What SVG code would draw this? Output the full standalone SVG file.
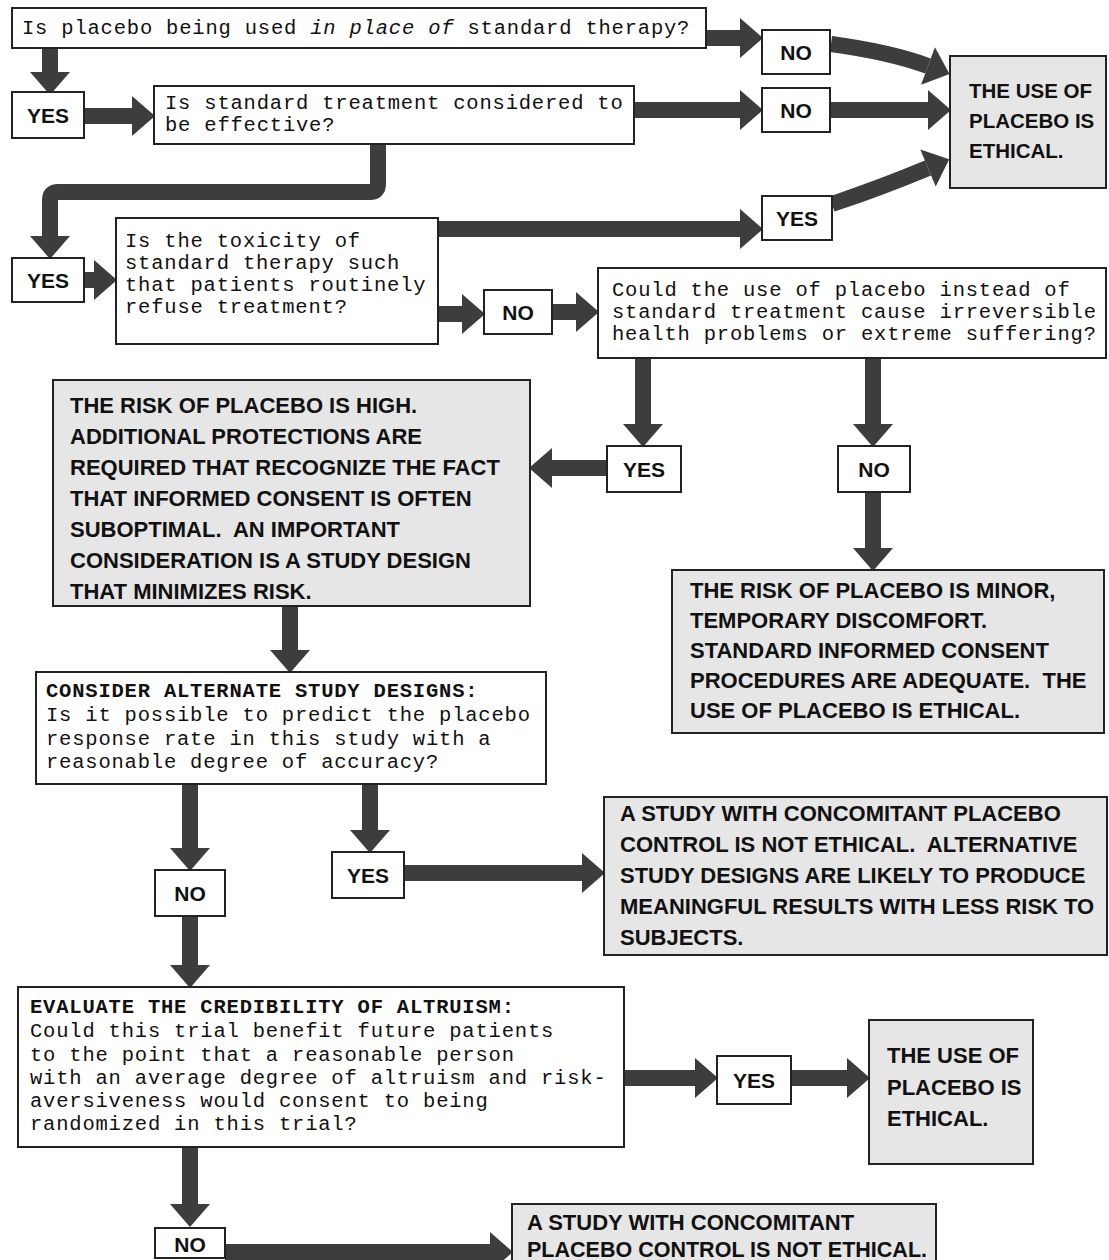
<svg xmlns="http://www.w3.org/2000/svg" width="1109" height="1260" viewBox="0 0 1109 1260">
<defs>
<marker id="ah" markerUnits="userSpaceOnUse" markerWidth="24" markerHeight="40" refX="0" refY="20" orient="auto" overflow="visible">
<path d="M0,0 L23,20 L0,40 Z" fill="#3d3d3d"/>
</marker>
<style>
.q{fill:#fff;stroke:#222;stroke-width:2}
.t{fill:#e6e6e6;stroke:#222;stroke-width:2}
.mono{font-family:"Liberation Mono","DejaVu Sans Mono",monospace;font-size:20.5px;letter-spacing:0.8px;fill:#111}
.hdr{font-weight:bold}
.cap{font-family:"Liberation Sans","DejaVu Sans",sans-serif;font-weight:bold;font-size:22px;fill:#111}
.sm{font-size:20.5px}
.lbl{font-family:"Liberation Sans","DejaVu Sans",sans-serif;font-weight:bold;font-size:21px;fill:#111;text-anchor:middle}
.c path{fill:none;stroke:#3d3d3d;stroke-width:16;marker-end:url(#ah)}
</style>
</defs>
<rect width="1109" height="1260" fill="#fff"/>

<g class="c" id="connectors">
<path d="M706,38 H740"/>
<path d="M831,44 Q890,52 928,66"/>
<path d="M50,48 V72"/>
<path d="M84,116 H132"/>
<path d="M634,110 H740"/>
<path d="M830,110 H928"/>
<path d="M378,144 V184 Q378,192 370,192 H58 Q50,192 50,200 V236"/>
<path d="M84,280 H94"/>
<path d="M438,229 H740"/>
<path d="M832,204 Q880,188 928,168"/>
<path d="M438,314 H462"/>
<path d="M552,312 H576"/>
<path d="M643,358 V424"/>
<path d="M873,358 V424"/>
<path d="M607,468 H552"/>
<path d="M873,492 V548"/>
<path d="M290,606 V650"/>
<path d="M190,784 V848"/>
<path d="M370,784 V830"/>
<path d="M404,873 H582"/>
<path d="M190,916 V965"/>
<path d="M624,1078 H695"/>
<path d="M791,1078 H847"/>
<path d="M190,1147 V1204"/>
<path d="M225,1252 H490"/>
</g>

<g id="q1"><rect class="q" x="12" y="8" width="694" height="40"/>
<text class="mono" x="22" y="34">Is placebo being used <tspan font-style="italic">in place of</tspan> standard therapy?</text></g>

<g id="no1"><rect class="q" x="762" y="30" width="68" height="44"/><text class="lbl" x="796" y="60">NO</text></g>

<g id="ethical1"><rect class="t" x="950" y="56" width="156" height="132"/>
<text class="cap sm" x="969" y="98">THE USE OF</text>
<text class="cap sm" x="969" y="128">PLACEBO IS</text>
<text class="cap sm" x="969" y="158">ETHICAL.</text></g>

<g id="yes1"><rect class="q" x="12" y="92" width="72" height="46"/><text class="lbl" x="48" y="123">YES</text></g>

<g id="q2"><rect class="q" x="154" y="86" width="480" height="58"/>
<text class="mono" x="165" y="109">Is standard treatment considered to</text>
<text class="mono" x="165" y="131">be effective?</text></g>

<g id="no2"><rect class="q" x="762" y="88" width="68" height="44"/><text class="lbl" x="796" y="118">NO</text></g>

<g id="yes2"><rect class="q" x="12" y="258" width="72" height="44"/><text class="lbl" x="48" y="288">YES</text></g>

<g id="q3"><rect class="q" x="116" y="218" width="322" height="126"/>
<text class="mono" x="125" y="247">Is the toxicity of</text>
<text class="mono" x="125" y="269">standard therapy such</text>
<text class="mono" x="125" y="291">that patients routinely</text>
<text class="mono" x="125" y="313">refuse treatment?</text></g>

<g id="yes3"><rect class="q" x="762" y="196" width="70" height="44"/><text class="lbl" x="797" y="226">YES</text></g>

<g id="no3"><rect class="q" x="484" y="290" width="68" height="44"/><text class="lbl" x="518" y="320">NO</text></g>

<g id="q4"><rect class="q" x="598" y="268" width="508" height="90"/>
<text class="mono" x="612" y="296">Could the use of placebo instead of</text>
<text class="mono" x="612" y="318">standard treatment cause irreversible</text>
<text class="mono" x="612" y="340">health problems or extreme suffering?</text></g>

<g id="yes4"><rect class="q" x="607" y="446" width="74" height="46"/><text class="lbl" x="644" y="477">YES</text></g>

<g id="no4"><rect class="q" x="838" y="446" width="72" height="46"/><text class="lbl" x="874" y="477">NO</text></g>

<g id="highrisk"><rect class="t" x="53" y="380" width="477" height="226"/>
<text class="cap" x="70" y="413">THE RISK OF PLACEBO IS HIGH.</text>
<text class="cap" x="70" y="444">ADDITIONAL PROTECTIONS ARE</text>
<text class="cap" x="70" y="475">REQUIRED THAT RECOGNIZE THE FACT</text>
<text class="cap" x="70" y="506">THAT INFORMED CONSENT IS OFTEN</text>
<text class="cap" x="70" y="537" xml:space="preserve">SUBOPTIMAL.  AN IMPORTANT</text>
<text class="cap" x="70" y="568">CONSIDERATION IS A STUDY DESIGN</text>
<text class="cap" x="70" y="599">THAT MINIMIZES RISK.</text></g>

<g id="minorrisk"><rect class="t" x="672" y="570" width="432" height="163"/>
<text class="cap" x="690" y="598">THE RISK OF PLACEBO IS MINOR,</text>
<text class="cap" x="690" y="628">TEMPORARY DISCOMFORT.</text>
<text class="cap" x="690" y="658">STANDARD INFORMED CONSENT</text>
<text class="cap" x="690" y="688" xml:space="preserve">PROCEDURES ARE ADEQUATE.  THE</text>
<text class="cap" x="690" y="718">USE OF PLACEBO IS ETHICAL.</text></g>

<g id="q5"><rect class="q" x="36" y="672" width="510" height="112"/>
<text class="mono hdr" x="46" y="697">CONSIDER ALTERNATE STUDY DESIGNS:</text>
<text class="mono" x="46" y="721">Is it possible to predict the placebo</text>
<text class="mono" x="46" y="745">response rate in this study with a</text>
<text class="mono" x="46" y="768">reasonable degree of accuracy?</text></g>

<g id="no5"><rect class="q" x="155" y="870" width="70" height="46"/><text class="lbl" x="190" y="901">NO</text></g>

<g id="yes5"><rect class="q" x="332" y="852" width="72" height="46"/><text class="lbl" x="368" y="883">YES</text></g>

<g id="notethical1"><rect class="t" x="604" y="797" width="503" height="158"/>
<text class="cap" x="620" y="821">A STUDY WITH CONCOMITANT PLACEBO</text>
<text class="cap" x="620" y="852" xml:space="preserve">CONTROL IS NOT ETHICAL.  ALTERNATIVE</text>
<text class="cap" x="620" y="883">STUDY DESIGNS ARE LIKELY TO PRODUCE</text>
<text class="cap" x="620" y="914">MEANINGFUL RESULTS WITH LESS RISK TO</text>
<text class="cap" x="620" y="945">SUBJECTS.</text></g>

<g id="q6"><rect class="q" x="18" y="987" width="606" height="160"/>
<text class="mono hdr" x="30" y="1013">EVALUATE THE CREDIBILITY OF ALTRUISM:</text>
<text class="mono" x="30" y="1037">Could this trial benefit future patients</text>
<text class="mono" x="30" y="1061">to the point that a reasonable person</text>
<text class="mono" x="30" y="1084">with an average degree of altruism and risk-</text>
<text class="mono" x="30" y="1107">aversiveness would consent to being</text>
<text class="mono" x="30" y="1130">randomized in this trial?</text></g>

<g id="yes6"><rect class="q" x="717" y="1056" width="74" height="48"/><text class="lbl" x="754" y="1088">YES</text></g>

<g id="ethical2"><rect class="t" x="869" y="1020" width="164" height="144"/>
<text class="cap" x="887" y="1063">THE USE OF</text>
<text class="cap" x="887" y="1095">PLACEBO IS</text>
<text class="cap" x="887" y="1126">ETHICAL.</text></g>

<g id="no6"><rect class="q" x="155" y="1228" width="70" height="30"/><text class="lbl" x="190" y="1252">NO</text></g>

<g id="notethical2"><rect class="t" x="512" y="1204" width="424" height="62"/>
<text class="cap" x="527" y="1230">A STUDY WITH CONCOMITANT</text>
<text class="cap" x="527" y="1257" textLength="400" lengthAdjust="spacingAndGlyphs">PLACEBO CONTROL IS NOT ETHICAL.</text></g>
</svg>
